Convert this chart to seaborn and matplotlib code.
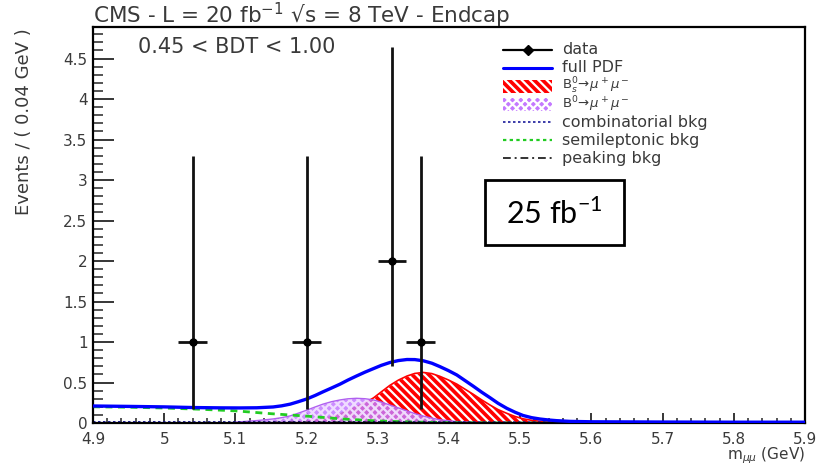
import matplotlib
matplotlib.use("Agg")
import matplotlib.pyplot as plt
import seaborn as sns
from matplotlib.patches import Rectangle
from matplotlib.lines import Line2D
from matplotlib.ticker import MultipleLocator, FuncFormatter

# ---------------- data ----------------
data_mass = [5.04, 5.20, 5.32, 5.36]
data_counts = [1, 1, 2, 1]
data_err_lo = [0.83, 0.83, 1.29, 0.83]
data_err_hi = [2.30, 2.30, 2.64, 2.30]
data_xerr = [0.02, 0.02, 0.02, 0.02]

pdf_mass = [4.90, 4.95, 5.00, 5.04, 5.08, 5.106, 5.130, 5.153, 5.165, 5.177, 5.188,
            5.200, 5.212, 5.223, 5.235, 5.247, 5.258, 5.270, 5.282, 5.294, 5.305,
            5.317, 5.329, 5.341, 5.352, 5.364, 5.376, 5.387, 5.399, 5.411, 5.422,
            5.434, 5.446, 5.458, 5.469, 5.481, 5.493, 5.504, 5.516, 5.528, 5.540,
            5.551, 5.570, 5.60, 5.70, 5.80, 5.90]
pdf_vals = [0.21, 0.205, 0.199, 0.191, 0.187, 0.186, 0.188, 0.198, 0.212, 0.233, 0.262,
            0.296, 0.34, 0.385, 0.432, 0.48, 0.53, 0.58, 0.628, 0.672, 0.712,
            0.747, 0.771, 0.784, 0.783, 0.768, 0.738, 0.697, 0.648, 0.593, 0.527,
            0.455, 0.38, 0.31, 0.243, 0.182, 0.132, 0.093, 0.066, 0.049, 0.037,
            0.029, 0.02, 0.015, 0.012, 0.01, 0.01]

bs_mass = [5.15, 5.177, 5.200, 5.223, 5.247, 5.270, 5.282, 5.294, 5.305, 5.317,
           5.329, 5.341, 5.352, 5.364, 5.376, 5.387, 5.399, 5.411, 5.422, 5.434,
           5.446, 5.458, 5.469, 5.481, 5.493, 5.504, 5.516, 5.528, 5.551, 5.58]
bs_vals = [0.005, 0.01, 0.02, 0.05, 0.11, 0.20, 0.25, 0.31, 0.385, 0.465,
           0.53, 0.58, 0.612, 0.624, 0.61, 0.577, 0.532, 0.48, 0.42, 0.355,
           0.285, 0.22, 0.165, 0.12, 0.08, 0.052, 0.033, 0.02, 0.008, 0.0]

b0_mass = [5.10, 5.13, 5.153, 5.165, 5.177, 5.188, 5.200, 5.212, 5.223, 5.235,
           5.247, 5.258, 5.270, 5.282, 5.294, 5.305, 5.317, 5.329, 5.341, 5.352,
           5.364, 5.376, 5.387, 5.41, 5.44]
b0_vals = [0.01, 0.03, 0.05, 0.066, 0.088, 0.12, 0.158, 0.198, 0.233, 0.263,
           0.285, 0.299, 0.305, 0.30, 0.285, 0.258, 0.222, 0.186, 0.15, 0.116,
           0.085, 0.06, 0.04, 0.018, 0.005]

semi_mass = [4.90, 4.95, 5.00, 5.05, 5.10, 5.15, 5.20, 5.25, 5.30, 5.35, 5.40, 5.50, 5.90]
semi_vals = [0.20, 0.195, 0.185, 0.17, 0.15, 0.115, 0.085, 0.05, 0.025, 0.012, 0.005, 0.0, 0.0]

comb_mass = [4.90, 5.10, 5.30, 5.50, 5.70, 5.90]
comb_vals = [0.014, 0.013, 0.012, 0.011, 0.010, 0.009]

peak_mass = [4.90, 5.05, 5.15, 5.25, 5.35, 5.45, 5.90]
peak_vals = [0.0, 0.001, 0.005, 0.008, 0.005, 0.0, 0.0]

title_text = "CMS - L = 20 fb$^{-1}$ \u221as = 8 TeV - Endcap"
bdt_text = "0.45 < BDT < 1.00"
lumi_text = "25 fb$^{\\mathregular{-1}}$"
legend_labels = ["data", "full PDF", r"B$^0_s\!\rightarrow\!\mu^+\mu^-$",
                 r"B$^0\!\rightarrow\!\mu^+\mu^-$", "combinatorial bkg",
                 "semileptonic bkg", "peaking bkg"]
legend_sizes = [11.5, 11.5, 9.5, 9.5, 11.5, 11.5, 11.5]

# ---------------- style ----------------
sns.set_theme(style="ticks")
plt.rcParams["font.family"] = ["DejaVu Sans"]
plt.rcParams["mathtext.fontset"] = "dejavusans"
plt.rcParams["hatch.linewidth"] = 1.6

W, H = 825, 467
fig = plt.figure(figsize=(W / 100, H / 100), dpi=100)
fig.patch.set_facecolor("white")

def fx(x):
    return x / W

def fy(y):
    return 1 - y / H

ax_l, ax_r, ax_t, ax_b = 93, 805, 27, 423
ax = fig.add_axes([fx(ax_l), fy(ax_b), (ax_r - ax_l) / W, (ax_b - ax_t) / H])
ax.set_facecolor("white")

TXT = "#3a3a3a"
RED = "#ff0000"
VIOLET = "#c479ff"

# components
ax.fill_between(bs_mass, bs_vals, color=RED, lw=0, zorder=1)
ax.fill_between(bs_mass, bs_vals, facecolor="none", edgecolor="white",
                hatch="\\\\\\\\", lw=0, zorder=1.1)
sns.lineplot(x=bs_mass, y=bs_vals, color=RED, lw=1.2, ax=ax, estimator=None, zorder=1.2)

ax.fill_between(b0_mass, b0_vals, facecolor=VIOLET, alpha=0.85, lw=0, zorder=1.3)
ax.fill_between(b0_mass, b0_vals, facecolor="none", edgecolor="white",
                hatch="xxxx", lw=0, alpha=0.7, zorder=1.4)
sns.lineplot(x=b0_mass, y=b0_vals, color="#b060f0", lw=1.0, ax=ax, estimator=None, zorder=1.5)

sns.lineplot(x=semi_mass, y=semi_vals, color="#22cc22", lw=2.0, ax=ax,
             estimator=None, zorder=2)
ax.lines[-1].set_linestyle((0, (2.5, 2)))
sns.lineplot(x=comb_mass, y=comb_vals, color="#1a1a99", lw=1.2, ax=ax,
             estimator=None, zorder=2)
ax.lines[-1].set_linestyle((0, (1.5, 1.5)))
sns.lineplot(x=peak_mass, y=peak_vals, color="black", lw=1.2, ax=ax,
             estimator=None, zorder=2)
ax.lines[-1].set_linestyle((0, (4, 2, 1, 2)))

# full PDF
sns.lineplot(x=pdf_mass, y=pdf_vals, color="#0000ff", lw=2.4, ax=ax,
             estimator=None, zorder=3)

# data
ax.errorbar(data_mass, data_counts, yerr=[data_err_lo, data_err_hi], xerr=data_xerr,
            fmt="none", ecolor="#111111", elinewidth=2.0, capsize=0, zorder=4)
sns.scatterplot(x=data_mass, y=data_counts, color="black", s=36, marker="o",
                edgecolor="black", linewidth=0, ax=ax, zorder=5)

# axes
ax.set_xlim(4.9, 5.9)
ax.set_ylim(0, 4.89)
ax.xaxis.set_major_locator(MultipleLocator(0.1))
ax.xaxis.set_minor_locator(MultipleLocator(0.02))
ax.yaxis.set_major_locator(MultipleLocator(0.5))
ax.yaxis.set_minor_locator(MultipleLocator(0.1))
fmt = FuncFormatter(lambda v, p: f"{v:g}")
ax.xaxis.set_major_formatter(fmt)
ax.yaxis.set_major_formatter(fmt)
for s in ax.spines.values():
    s.set_linewidth(1.6)
    s.set_color("black")
ax.tick_params(axis="x", which="major", direction="in", length=7.5, width=1.3,
               top=False, labelsize=11, labelcolor=TXT, pad=6.5)
ax.tick_params(axis="x", which="minor", direction="in", length=3.8, width=1.1, top=False)
ax.tick_params(axis="y", which="major", direction="in", length=15, width=1.3,
               right=False, labelsize=11, labelcolor=TXT, pad=4)
ax.tick_params(axis="y", which="minor", direction="in", length=7.5, width=1.1, right=False)
ax.set_xlabel("")
ax.set_ylabel("")

# texts
fig.text(fx(93), fy(23), title_text, fontsize=15.5, color=TXT, ha="left", va="baseline")
fig.text(fx(138), fy(53), bdt_text, fontsize=15, color=TXT, ha="left", va="baseline")
fig.text(fx(24), fy(28), "Events / ( 0.04 GeV )", fontsize=13, color=TXT,
         rotation=90, ha="center", va="top")
fig.text(fx(805), fy(466.3), r"m$_{\mu\mu}$ (GeV)", fontsize=11, color=TXT,
         ha="right", va="bottom")

# legend (manual layout)
rows_y = [50, 68, 86, 104, 122, 140, 158]
hx0, hx1, tx = 503, 552, 562
fig.add_artist(Line2D([fx(hx0), fx(hx1)], [fy(rows_y[0])] * 2, color="black", lw=1.6,
                      transform=fig.transFigure))
fig.add_artist(Line2D([fx((hx0 + hx1) / 2)], [fy(rows_y[0])], color="black", marker="D",
                      markersize=5, transform=fig.transFigure))
fig.add_artist(Line2D([fx(hx0), fx(hx1)], [fy(rows_y[1])] * 2, color="#0000ff", lw=2.2,
                      transform=fig.transFigure))
for yy, fc, hatch in [(rows_y[2], RED, "\\\\\\\\"), (rows_y[3], VIOLET, "xxxx")]:
    fig.add_artist(Rectangle((fx(hx0), fy(yy + 6.5)), (hx1 - hx0) / W, 13 / H,
                             facecolor=fc, edgecolor="none", transform=fig.transFigure))
    fig.add_artist(Rectangle((fx(hx0), fy(yy + 6.5)), (hx1 - hx0) / W, 13 / H,
                             facecolor="none", edgecolor="white", hatch=hatch, lw=0,
                             transform=fig.transFigure))
fig.add_artist(Line2D([fx(hx0), fx(hx1)], [fy(rows_y[4])] * 2, color="#1a1a99", lw=1.2,
                      linestyle=(0, (1.5, 1.5)), transform=fig.transFigure))
fig.add_artist(Line2D([fx(hx0), fx(hx1)], [fy(rows_y[5])] * 2, color="#22cc22", lw=1.6,
                      linestyle=(0, (1.5, 1.5)), transform=fig.transFigure))
fig.add_artist(Line2D([fx(hx0), fx(hx1)], [fy(rows_y[6])] * 2, color="#333333", lw=1.4,
                      linestyle=(0, (4, 2, 1, 2)), transform=fig.transFigure))
for yy, lab, fs in zip(rows_y, legend_labels, legend_sizes):
    fig.text(fx(tx), fy(yy), lab, fontsize=fs, color=TXT, ha="left", va="center")

# 25 fb-1 box
fig.add_artist(Rectangle((fx(485), fy(245)), 139 / W, 65 / H, facecolor="white",
                         edgecolor="black", lw=2.0, transform=fig.transFigure))
fig.text(fx(554), fy(213), lumi_text, fontsize=22, family=["Lato", "DejaVu Sans"],
         color="black", ha="center", va="center")

fig.savefig("out.png", dpi=100, facecolor="white")
